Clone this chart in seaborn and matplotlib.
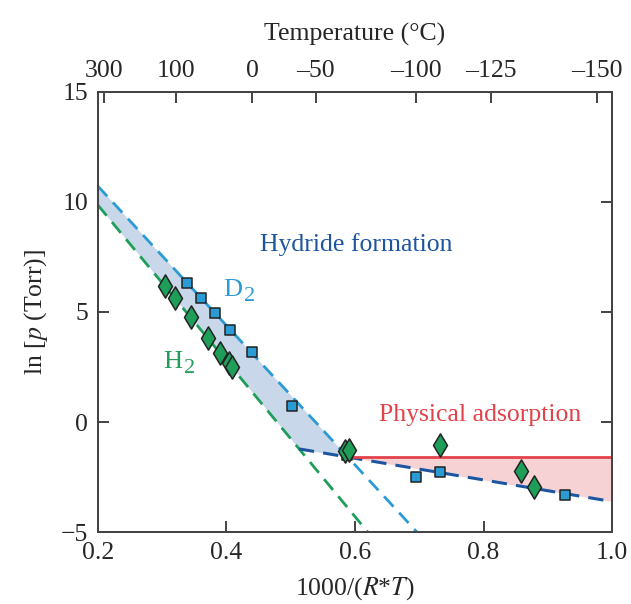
import numpy as np
import matplotlib
matplotlib.use('Agg')
import matplotlib.pyplot as plt
import seaborn as sns

# Données
d2_x = [0.339, 0.360, 0.383, 0.4055, 0.440, 0.5015, 0.587, 0.695, 0.733, 0.927]
d2_y = [6.30, 5.65, 4.97, 4.18, 3.20, 0.74, -1.50, -2.49, -2.26, -3.32]

h2_x = [0.304, 0.320, 0.3447, 0.3717, 0.390, 0.404, 0.408, 0.5844, 0.5907, 0.733, 0.859, 0.8786]
h2_y = [6.20, 5.62, 4.76, 3.80, 3.15, 2.70, 2.52, -1.32, -1.27, -1.05, -2.21, -2.97]

# Droites (extrémités)
d2_line_x = [0.2, 0.6965]
d2_line_y = [10.72, -5.0]
h2_line_x = [0.2, 0.620]
h2_line_y = [9.86, -5.0]
phys_line_x = [0.513, 1.0]
phys_line_y = [-1.22, -3.61]
phys_level = -1.58

temp_c = [300, 100, 0, -50, -100, -125, -150]
R = 8.314

c_d2 = '#2a9bd5'
c_h2 = '#1f9e5a'
c_dark = '#1d55a0'
c_red = '#e2434b'

sns.set_theme(style='ticks')
plt.rcParams['font.family'] = ['Liberation Serif', 'DejaVu Serif']
plt.rcParams['mathtext.fontset'] = 'stix'
plt.rcParams['axes.edgecolor'] = '#444444'
plt.rcParams['axes.linewidth'] = 1.4

fig, ax = plt.subplots(figsize=(6.31, 6.04), dpi=100)
fig.subplots_adjust(left=0.155, right=0.97, top=0.848, bottom=0.119)

# Zones remplies
xx = np.linspace(0.2, 1.0, 800)
d2_fit = np.polyfit(d2_line_x, d2_line_y, 1)
h2_fit = np.polyfit(h2_line_x, h2_line_y, 1)
ph_fit = np.polyfit(phys_line_x, phys_line_y, 1)
top = np.polyval(d2_fit, xx)
low = np.maximum(np.polyval(h2_fit, xx), np.polyval(ph_fit, xx))
x_cross = (d2_fit[1] - ph_fit[1]) / (ph_fit[0] - d2_fit[0])
m1 = xx <= x_cross
ax.fill_between(xx[m1], low[m1], top[m1], color='#c8d8ea', lw=0, zorder=1)
m2 = xx >= x_cross
ax.fill_between(xx[m2], np.polyval(ph_fit, xx[m2]), phys_level, color='#f7d2d5', lw=0, zorder=1)

# Droites
sns.lineplot(x=d2_line_x, y=d2_line_y, ax=ax, color=c_d2, lw=2, linestyle=(0, (5, 3)), zorder=2)
sns.lineplot(x=h2_line_x, y=h2_line_y, ax=ax, color=c_h2, lw=2, linestyle=(0, (5, 3)), zorder=2)
sns.lineplot(x=phys_line_x, y=phys_line_y, ax=ax, color=c_dark, lw=2.2, linestyle=(0, (5, 3)), zorder=2)
sns.lineplot(x=[x_cross, 1.0], y=[phys_level, phys_level], ax=ax, color=c_red, lw=2, zorder=2)

# Points
sns.scatterplot(x=d2_x, y=d2_y, ax=ax, marker='s', s=50, color=c_d2, edgecolor='#222222', linewidth=1.1, zorder=5)
sns.scatterplot(x=h2_x, y=h2_y, ax=ax, marker='d', s=140, color=c_h2, edgecolor='#222222', linewidth=1.1, zorder=6)

# Textes
ax.text(0.6015, 8.05, 'Hydride formation', color=c_dark, fontsize=18.5, ha='center', va='center')
ax.text(0.41, 6.0, 'D', color=c_d2, fontsize=19, ha='center', va='center')
ax.annotate('2', xy=(0.41, 6.0), xytext=(8, -5), textcoords='offset points',
            color=c_d2, fontsize=16, ha='left', va='center')
ax.text(0.317, 2.75, 'H', color=c_h2, fontsize=19, ha='center', va='center')
ax.annotate('2', xy=(0.317, 2.75), xytext=(8, -5), textcoords='offset points',
            color=c_h2, fontsize=16, ha='left', va='center')
ax.text(0.795, 0.32, 'Physical adsorption', color=c_red, fontsize=18.5, ha='center', va='center')

ax.set_xlim(0.2, 1.0)
ax.set_ylim(-5, 15)
ax.set_xticks([0.2, 0.4, 0.6, 0.8, 1.0])
ax.set_xticklabels(['0.2', '0.4', '0.6', '0.8', '1.0'])
ax.set_yticks([-5, 0, 5, 10, 15])
ax.set_xlabel('1000/($R$*$T$)', fontsize=18.5, labelpad=8)
ax.set_ylabel('ln [$p$ (Torr)]', fontsize=18.5, labelpad=8)
ax.tick_params(axis='both', direction='in', length=8, width=1.2, color='#222222',
               labelsize=18.5, pad=7)
ax.tick_params(axis='y', right=True)

ax_top = ax.twiny()
ax_top.set_xlim(ax.get_xlim())
ax_top.set_xticks([1000 / (R * (t + 273.15)) for t in temp_c])
ax_top.set_xticklabels([str(t).replace('-', '\u2013') for t in temp_c])
ax_top.tick_params(axis='x', direction='in', length=8, width=1.2, color='#222222',
                   labelsize=18.5, pad=7)
ax_top.set_xlabel('Temperature (°C)', fontsize=18.5, labelpad=14)

fig.savefig('out.png', dpi=100)
